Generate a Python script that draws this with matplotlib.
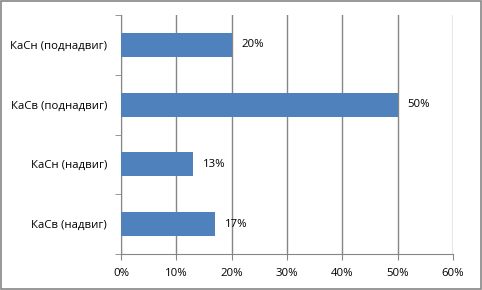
import matplotlib.pyplot as plt
from matplotlib.patches import Rectangle

plt.rcParams['font.family'] = ['Open Sans', 'DejaVu Sans']

categories = ['КаСв (надвиг)', 'КаСн (надвиг)', 'КаСв (поднадвиг)', 'КаСн (поднадвиг)']
values = [17, 13, 50, 20]
xticks = [0, 10, 20, 30, 40, 50, 60]

grey = '#868686'
fs = 8.2

fig = plt.figure(figsize=(4.82, 2.90), dpi=100)
ax = fig.add_axes([121 / 482, 1 - 254 / 290, (453 - 121) / 482, (254 - 15) / 290])

pos = list(range(len(categories)))
ax.barh(pos, values, height=0.4, color='#4F81BD', zorder=3)
for p, v in zip(pos, values):
    ax.annotate(f'{v}%', (v, p), xytext=(7, 0), textcoords='offset points',
                va='center', ha='left', fontsize=fs, color='#000000')

ax.set_xlim(0, 60)
ax.set_ylim(-0.5, len(categories) - 0.5)
ax.set_xticks(xticks)
ax.set_xticklabels([f'{t}%' for t in xticks], fontsize=fs)
ax.set_yticks(pos)
ax.set_yticklabels(categories, fontsize=fs)
ax.tick_params(axis='y', length=0, pad=10)
ax.set_yticks([p - 0.5 for p in pos] + [len(categories) - 0.5], minor=True)
ax.tick_params(axis='y', which='minor', length=4, color=grey, direction='out')
ax.tick_params(axis='x', length=4, color=grey, direction='out', pad=6)
ax.grid(axis='x', color=grey, linewidth=1, zorder=0)

for s in ['top', 'right']:
    ax.spines[s].set_visible(False)
ax.spines['left'].set_color(grey)
ax.spines['bottom'].set_color(grey)

fig.patches.append(Rectangle((0.002, 0.003), 0.995, 0.993, transform=fig.transFigure,
                             fill=False, edgecolor=grey, linewidth=1.2))

fig.savefig('out.png', dpi=100)
